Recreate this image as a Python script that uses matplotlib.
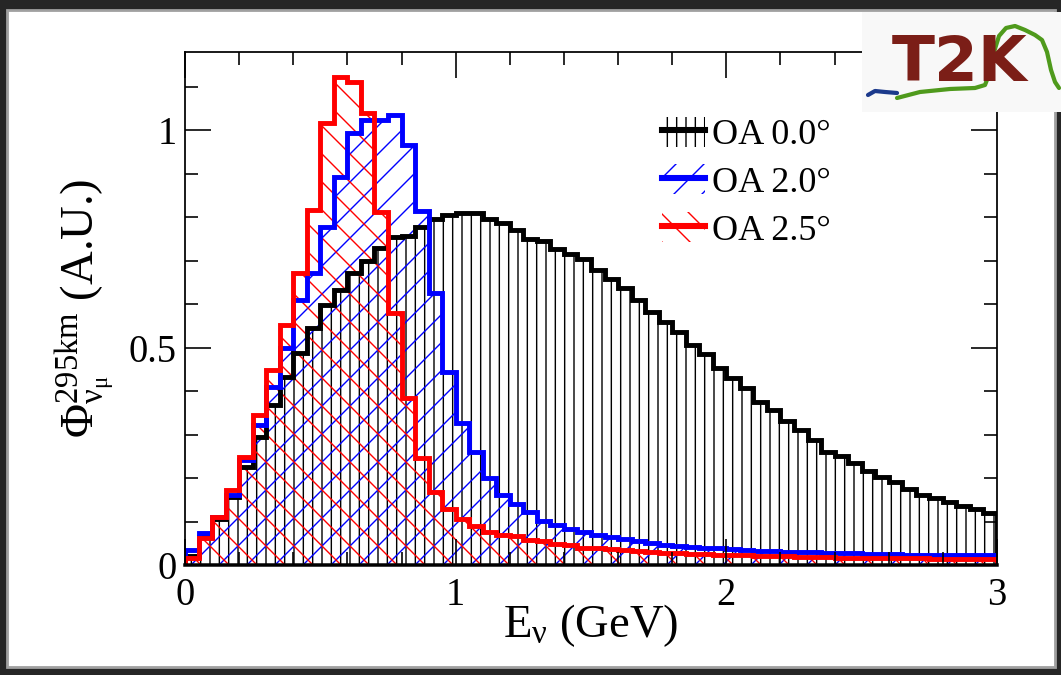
import matplotlib
matplotlib.use("Agg")
import matplotlib.pyplot as plt
import numpy as np
from matplotlib.patches import Patch, Rectangle
from matplotlib.lines import Line2D
from matplotlib.ticker import MultipleLocator

# ---------------- data ----------------
bin_edges = np.round(np.arange(0, 3.0001, 0.05), 3)

flux_oa00 = [0.020, 0.065, 0.105, 0.156, 0.225, 0.294, 0.368, 0.432, 0.487, 0.545,
             0.598, 0.632, 0.671, 0.700, 0.729, 0.754, 0.757, 0.777, 0.797, 0.804,
             0.810, 0.810, 0.797, 0.786, 0.770, 0.749, 0.746, 0.726, 0.715, 0.703,
             0.678, 0.657, 0.637, 0.609, 0.582, 0.559, 0.536, 0.505, 0.486, 0.453,
             0.430, 0.407, 0.375, 0.356, 0.332, 0.310, 0.287, 0.260, 0.250, 0.234,
             0.217, 0.203, 0.190, 0.174, 0.161, 0.154, 0.145, 0.136, 0.128, 0.119]

flux_oa20 = [0.034, 0.073, 0.110, 0.161, 0.241, 0.322, 0.410, 0.499, 0.609, 0.671,
             0.777, 0.892, 0.993, 1.023, 1.023, 1.034, 0.966, 0.814, 0.625, 0.445,
             0.327, 0.260, 0.200, 0.161, 0.141, 0.121, 0.101, 0.092, 0.082, 0.075,
             0.070, 0.064, 0.060, 0.056, 0.050, 0.047, 0.044, 0.042, 0.040, 0.038,
             0.036, 0.034, 0.033, 0.032, 0.031, 0.030, 0.029, 0.028, 0.027, 0.027,
             0.026, 0.025, 0.025, 0.024, 0.024, 0.023, 0.023, 0.022, 0.022, 0.022]

flux_oa25 = [0.016, 0.062, 0.110, 0.172, 0.248, 0.345, 0.448, 0.552, 0.671, 0.816,
             1.016, 1.122, 1.110, 1.039, 0.812, 0.579, 0.384, 0.246, 0.168, 0.128,
             0.105, 0.090, 0.076, 0.068, 0.066, 0.058, 0.055, 0.048, 0.045, 0.040,
             0.038, 0.036, 0.034, 0.032, 0.030, 0.028, 0.027, 0.026, 0.025, 0.024,
             0.023, 0.022, 0.021, 0.020, 0.020, 0.019, 0.018, 0.018, 0.017, 0.017,
             0.016, 0.016, 0.015, 0.015, 0.015, 0.014, 0.014, 0.014, 0.013, 0.013]

labels = ["OA 0.0°", "OA 2.0°", "OA 2.5°"]
colors = ["black", "#0000ff", "#ff0000"]
hatches = ["|||", "//", "\\\\"]
series = [flux_oa00, flux_oa20, flux_oa25]

x_ticks = [0, 1, 2, 3]
y_ticks = [0, 0.5, 1]
y_tick_labels = ["0", "0.5", "1"]

# ---------------- style ----------------
DPI = 168
plt.rcParams["font.family"] = ["Liberation Serif", "DejaVu Serif"]
plt.rcParams["mathtext.fontset"] = "custom"
plt.rcParams["mathtext.rm"] = "Liberation Serif"
plt.rcParams["mathtext.it"] = "Liberation Serif:italic"
plt.rcParams["mathtext.bf"] = "Liberation Serif:bold"
plt.rcParams["mathtext.fallback"] = "stix"
plt.rcParams["hatch.linewidth"] = 0.6

fig = plt.figure(figsize=(1061.01 / DPI, 675.01 / DPI), dpi=DPI)
fig.patch.set_facecolor("#262626")

# white page with a light gray border
page = Rectangle((7 / 1061, 1 - 667 / 675), (1055 - 7) / 1061, (667 - 10) / 675,
                 transform=fig.transFigure, facecolor="white", edgecolor="#a0a0a0",
                 linewidth=1.2, zorder=-10)
fig.patches.append(page)

ax = fig.add_axes([185 / 1061, 1 - 565 / 675, 812 / 1061, 513 / 675])
ax.set_zorder(1)
ax.set_facecolor("none")

for vals, c, h in zip(series, colors, hatches):
    ax.stairs(vals, bin_edges, fill=True, facecolor="none", edgecolor=c,
              hatch=h, linewidth=0)
for vals, c in zip(series, colors):
    ax.stairs(vals, bin_edges, color=c, linewidth=2.1)

ax.set_xlim(0, 3)
ax.set_ylim(0, 1.18)
ax.set_xticks(x_ticks)
ax.set_yticks(y_ticks)
ax.set_yticklabels(y_tick_labels)
ax.xaxis.set_minor_locator(MultipleLocator(0.2))
ax.yaxis.set_minor_locator(MultipleLocator(0.1))
ax.tick_params(which="both", direction="in", top=True, right=True, width=0.7,
               labelsize=16.5)
ax.tick_params(which="major", length=11)
ax.tick_params(which="minor", length=5.6)
ax.tick_params(axis="x", pad=5)
ax.tick_params(axis="y", pad=3.5)
for s in ax.spines.values():
    s.set_linewidth(0.75)
ax.spines["bottom"].set_linewidth(1.5)

ax.set_xlabel(r"E$_{\mathrm{\nu}}$ (GeV)", fontsize=20)
ax.xaxis.set_label_coords(0.5, -0.072)
ax.set_ylabel(r"$\mathrm{\Phi}^{\mathrm{295km}}_{\mathrm{\nu}_{\mathrm{\mu}}}$ (A.U.)", fontsize=20)
ax.yaxis.set_label_coords(-0.085, 0.5)

handles = [(Patch(facecolor="none", edgecolor=c, hatch=h, linewidth=0),
            Line2D([], [], color=c, linewidth=2.6))
           for c, h in zip(colors, hatches)]
ax.legend(handles, labels, loc="upper left", bbox_to_anchor=(0.587, 0.874),
          frameon=False, fontsize=15.5, handlelength=1.2, handleheight=0.9,
          handletextpad=0.2, labelspacing=0.34, borderpad=0, borderaxespad=0)

# T2K logo (decoration)
lax = fig.add_axes([862 / 1061, 1 - 112 / 675, 199 / 1061, 100 / 675])
lax.set_zorder(5)
lax.set_xlim(862, 1061)
lax.set_ylim(112, 12)
lax.set_facecolor("#f8f8f8")
for s in lax.spines.values():
    s.set_visible(False)
lax.set_xticks([])
lax.set_yticks([])
lax.text(960, 64, "T2K", color="#7b1e17", fontsize=27, fontweight="bold",
         family="DejaVu Sans", ha="center", va="center")
gx = [897, 920, 950, 975, 985, 990, 994, 999, 1006, 1015, 1025, 1035, 1042, 1047, 1051, 1055, 1059]
gy = [98, 92, 89, 88, 85, 72, 52, 36, 28, 26, 30, 35, 40, 52, 70, 82, 88]
lax.plot(gx, gy, color="#4f9a1c", linewidth=1.8, solid_capstyle="round")
lax.plot([868, 875, 885, 897], [95, 91, 92, 93], color="#1c3a8c", linewidth=1.8,
         solid_capstyle="round")

fig.savefig("out.png", dpi=DPI, facecolor=fig.get_facecolor())
